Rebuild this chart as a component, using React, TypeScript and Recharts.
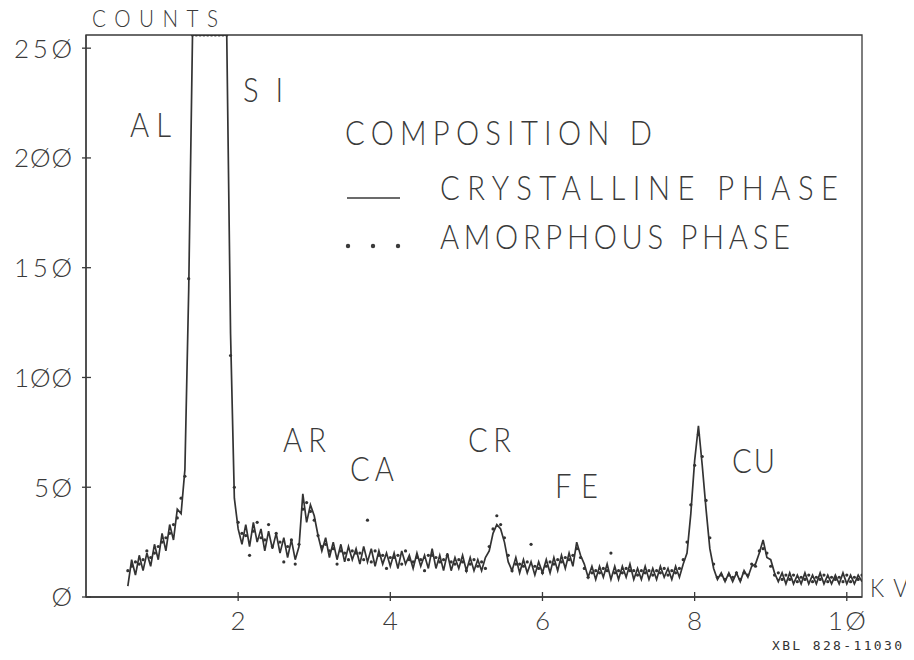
import React from "react";
import { LineChart, Line, XAxis, YAxis, ReferenceArea } from "recharts";

// spectrum channels: 0.55 KV to 10.20 KV, 0.05 KV apart
const START_KV = 0.55;
const STEP_KV = 0.05;

// crystalline phase counts, 10 channels per row (row start in comment)
const crystalline = [
  5, 17, 10, 19, 12, 20, 14, 24, 17, 29, // 0.55
  21, 33, 26, 40, 38, 58, 140, 256, 256, 256, // 1.05
  256, 256, 256, 256, 256, 256, 256, 120, 45, 31, // 1.55
  24, 33, 23, 34, 25, 31, 21, 30, 22, 29, // 2.05
  20, 27, 18, 26, 17, 23, 47, 34, 42, 37, // 2.55
  28, 21, 27, 18, 25, 17, 24, 16, 23, 17, // 3.05
  22, 15, 23, 16, 22, 14, 21, 15, 20, 14, // 3.55
  20, 13, 21, 15, 19, 13, 20, 14, 19, 13, // 4.05
  22, 13, 19, 12, 20, 12, 18, 13, 19, 12, // 4.55
  18, 12, 17, 12, 18, 21, 29, 33, 31, 25, // 5.05
  16, 12, 18, 11, 17, 11, 16, 10, 16, 11, // 5.55
  17, 11, 18, 12, 19, 13, 20, 14, 25, 19, // 6.05
  15, 9, 14, 8, 14, 9, 15, 8, 14, 8, // 6.55
  14, 9, 15, 8, 13, 8, 14, 8, 13, 8, // 7.05
  14, 9, 13, 8, 14, 9, 15, 20, 38, 62, // 7.55
  78, 60, 40, 22, 13, 8, 11, 7, 11, 7, // 8.05
  11, 7, 12, 9, 14, 15, 20, 26, 18, 17, // 8.55
  11, 7, 11, 6, 11, 6, 10, 6, 11, 6, // 9.05
  10, 6, 11, 6, 10, 6, 10, 6, 11, 6, // 9.55
  10, 6, 10, 7, // 10.05
];

// amorphous phase counts, same channels
const amorphous = [
  12, 14, 16, 15, 17, 21, 18, 20, 23, 25, // 0.55
  27, 29, 33, 36, 45, 55, 145, 256, 256, 256, // 1.05
  256, 256, 256, 256, 256, 256, 256, 110, 50, 34, // 1.55
  29, 28, 19, 30, 34, 27, 26, 33, 23, 29, // 2.05
  25, 16, 23, 26, 15, 24, 40, 43, 39, 35, // 2.55
  28, 23, 24, 21, 22, 15, 21, 20, 17, 21, // 3.05
  20, 20, 17, 35, 16, 21, 19, 19, 13, 18, // 3.55
  18, 19, 15, 21, 17, 16, 18, 17, 12, 19, // 4.05
  19, 18, 16, 17, 19, 16, 15, 17, 16, 12, // 4.55
  15, 17, 14, 16, 13, 23, 31, 37, 33, 27, // 5.05
  19, 12, 15, 15, 14, 16, 24, 14, 13, 11, // 5.55
  14, 16, 15, 17, 16, 18, 17, 19, 22, 18, // 6.05
  13, 9, 11, 12, 11, 13, 12, 20, 11, 12, // 6.55
  11, 13, 12, 12, 10, 12, 11, 12, 10, 12, // 7.05
  11, 13, 10, 12, 11, 13, 17, 25, 42, 60, // 7.55
  74, 64, 44, 27, 15, 9, 10, 8, 10, 9, // 8.05
  11, 8, 11, 10, 15, 14, 21, 22, 20, 14, // 8.55
  10, 11, 8, 10, 8, 10, 7, 9, 8, 10, // 9.05
  7, 9, 8, 10, 7, 9, 8, 9, 7, 10, // 9.55
  7, 9, 8, 10, // 10.05
];

const xTicks = [2, 4, 6, 8, 10];
const yTicks = [0, 50, 100, 150, 200, 250];

const peakLabels = [
  { text: "AL", x: 130, y: 137, w: 41 },
  { text: "SI", x: 243, y: 102, w: 40 },
  { text: "AR", x: 283, y: 452, w: 43 },
  { text: "CA", x: 350, y: 481, w: 44 },
  { text: "CR", x: 468, y: 452, w: 43 },
  { text: "FE", x: 555, y: 498, w: 43 },
  { text: "CU", x: 732, y: 473, w: 43 },
];

const data = crystalline.map((c, i) => ({
  kv: +(START_KV + i * STEP_KV).toFixed(2),
  cry: c,
  amo: amorphous[i],
}));

const INK = "#3a3a3a";
const FONT = "Lato, 'DejaVu Sans', sans-serif";
const W = 914;
const H = 660;
const PLOT_LEFT = 86;
const PLOT_BOTTOM = 597;

const slashZero = (v: number) => String(v).replace(/0/g, "Ø");

// plotter-style text: x,y is the baseline anchor, w the full span, sx squeezes glyphs
const Plot = ({
  text,
  x,
  y,
  w,
  size,
  sx = 0.86,
  anchor = "start",
  dy,
}: {
  text: string;
  x: number;
  y: number;
  w?: number;
  size: number;
  sx?: number;
  anchor?: "start" | "middle" | "end";
  dy?: string;
}) => (
  <text
    transform={`translate(${x},${y}) scale(${sx},1)`}
    x={0}
    y={0}
    dy={dy}
    textAnchor={anchor}
    fontFamily={FONT}
    fontWeight={300}
    fontSize={size}
    fill={INK}
    textLength={w ? w / sx : undefined}
    lengthAdjust="spacing"
  >
    {text}
  </text>
);

const YTick = (props: any) => {
  const { y, payload } = props;
  const s = slashZero(payload.value);
  return (
    <g>
      <line x1={PLOT_LEFT - 4} x2={PLOT_LEFT + 5} y1={y} y2={y} stroke={INK} strokeWidth={1.3} />
      <Plot
        text={s}
        x={PLOT_LEFT - 14}
        y={y}
        dy="0.36em"
        anchor="end"
        size={26}
        sx={1}
        w={s.length > 1 ? s.length * 20 - 2 : undefined}
      />
    </g>
  );
};

const XTick = (props: any) => {
  const { x, payload } = props;
  const s = slashZero(payload.value);
  return (
    <g>
      <line x1={x} x2={x} y1={PLOT_BOTTOM - 5} y2={PLOT_BOTTOM + 4} stroke={INK} strokeWidth={1.3} />
      <Plot
        text={s}
        x={x}
        y={PLOT_BOTTOM + 33}
        anchor="middle"
        size={26}
        sx={1}
        w={s.length > 1 ? s.length * 20 - 2 : undefined}
      />
    </g>
  );
};

export default function App() {
  return (
    <div style={{ position: "relative", width: W, height: H, margin: -8 }}>
      <LineChart
        width={W}
        height={H}
        data={data}
        margin={{ top: 35, right: 52, bottom: 23, left: 26 }}
      >
        <XAxis
          dataKey="kv"
          type="number"
          domain={[0, 10.2]}
          ticks={xTicks}
          allowDataOverflow
          height={40}
          axisLine={{ stroke: INK, strokeWidth: 1.3 }}
          tickLine={false}
          tick={XTick}
          interval={0}
        />
        <YAxis
          type="number"
          domain={[0, 256]}
          ticks={yTicks}
          allowDataOverflow
          width={60}
          axisLine={{ stroke: INK, strokeWidth: 1.3 }}
          tickLine={false}
          tick={YTick}
          interval={0}
        />
        <ReferenceArea x1={0} x2={10.2} y1={0} y2={256} fill="none" stroke={INK} strokeWidth={1.3} />
        <Line
          type="linear"
          dataKey="cry"
          stroke="#333"
          strokeWidth={1.7}
          dot={false}
          activeDot={false}
          isAnimationActive={false}
        />
        <Line
          type="linear"
          dataKey="amo"
          stroke="none"
          dot={{ r: 1.6, fill: "#333", stroke: "none" }}
          activeDot={false}
          isAnimationActive={false}
        />
      </LineChart>
      <svg
        width={W}
        height={H}
        style={{ position: "absolute", left: 0, top: 0, pointerEvents: "none" }}
      >
        <Plot text="COUNTS" x={92} y={27} w={126} size={24} />
        {peakLabels.map((p) => (
          <Plot key={p.text} text={p.text} x={p.x} y={p.y} w={p.w} size={34} />
        ))}
        <Plot text="COMPOSITION D" x={345} y={145} w={307} size={34} />
        <line x1={347} x2={400} y1={198} y2={198} stroke={INK} strokeWidth={1.4} />
        <Plot text="CRYSTALLINE PHASE" x={440} y={200} w={398} size={34} />
        {[348, 373, 398].map((cx) => (
          <circle key={cx} cx={cx} cy={246} r={2.2} fill={INK} />
        ))}
        <Plot text="AMORPHOUS PHASE" x={440} y={249} w={350} size={34} />
        <Plot text="KV" x={870} y={597} w={38} size={26} />
        <text
          x={772}
          y={650}
          fontFamily="'DejaVu Sans Mono', monospace"
          fontSize={13}
          fill="#333"
          textLength={130}
          lengthAdjust="spacing"
        >
          XBL 828-11030
        </text>
      </svg>
    </div>
  );
}
